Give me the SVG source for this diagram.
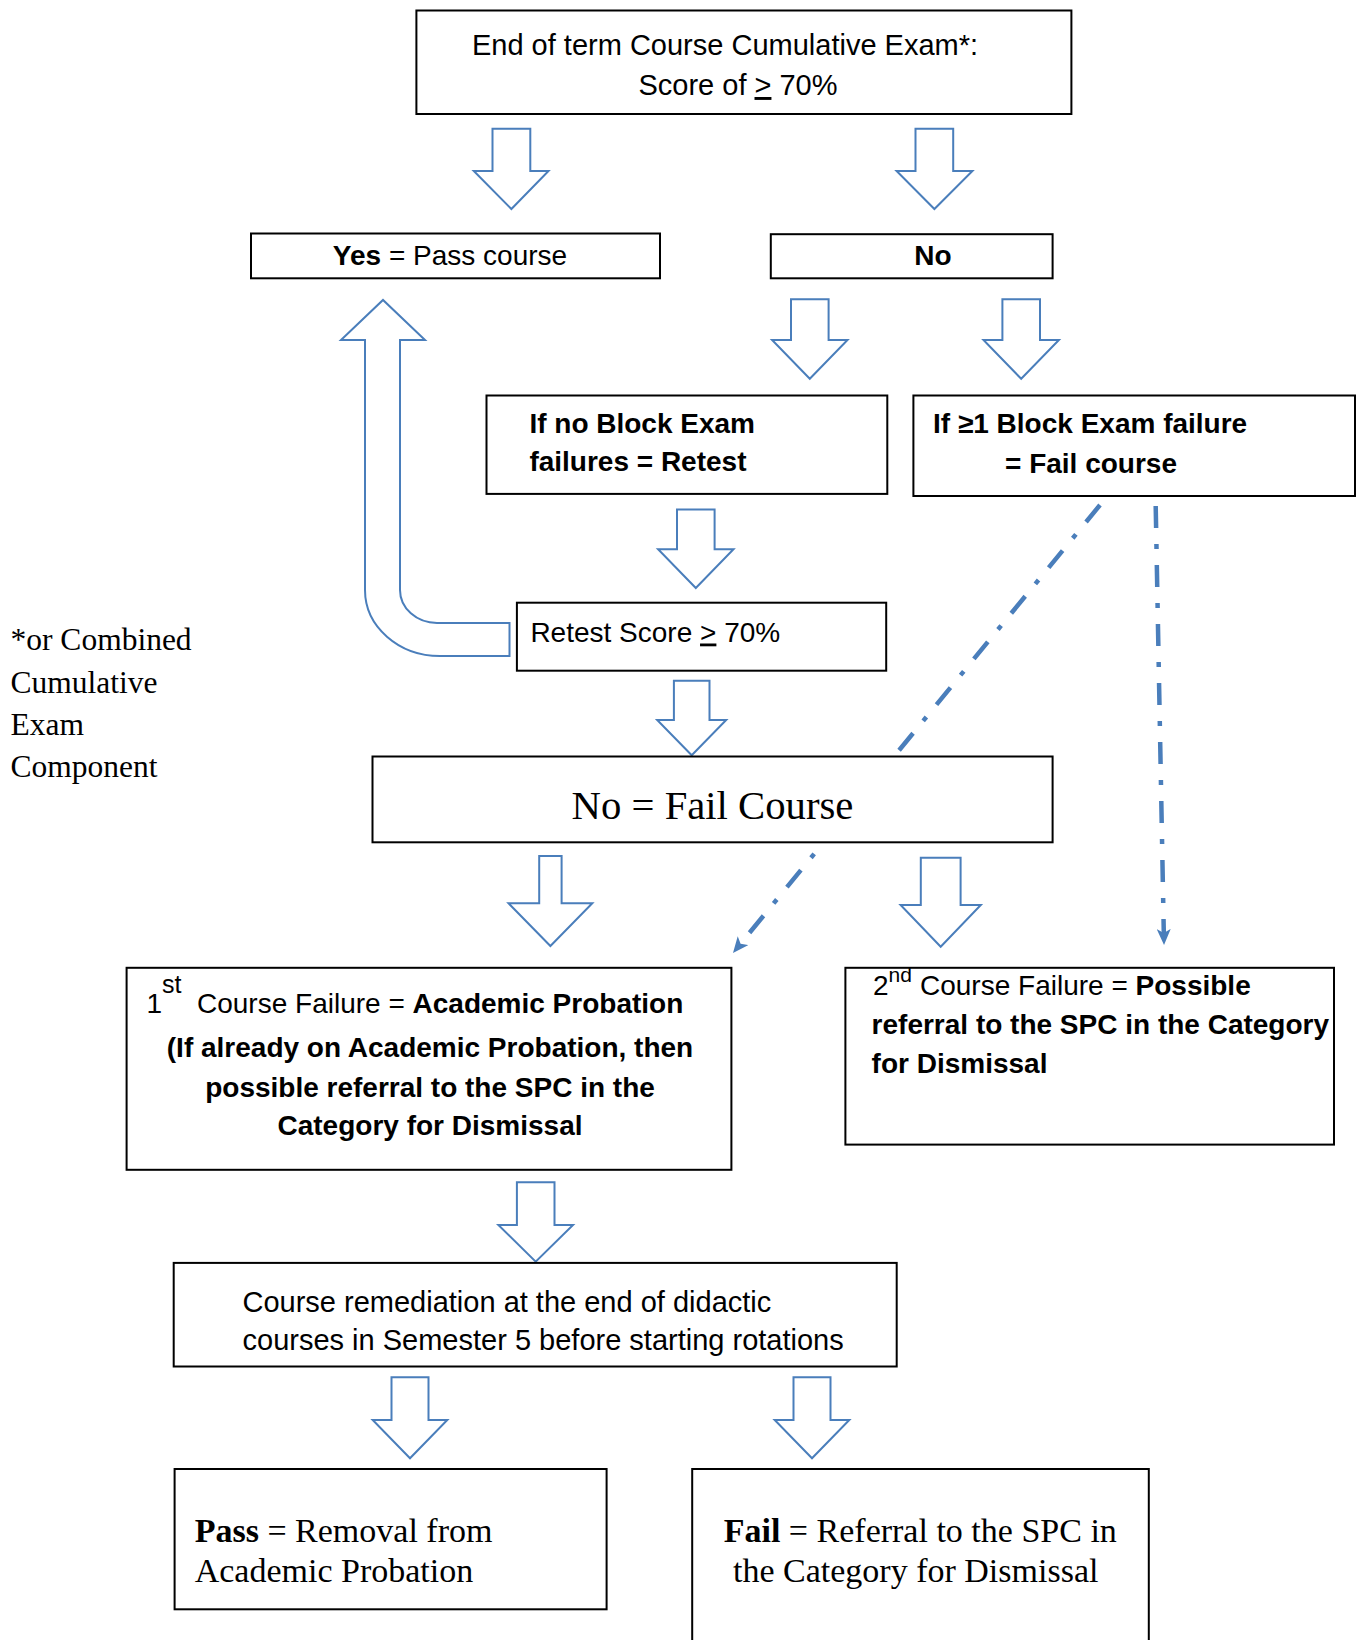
<svg xmlns="http://www.w3.org/2000/svg" width="1356" height="1640" viewBox="0 0 1356 1640">
<defs>
<style>
.box{fill:#fff;stroke:#000;stroke-width:2}
.blk{fill:#fff;stroke:#4A7EBB;stroke-width:2;stroke-linejoin:miter}
.dash{fill:none;stroke:#4A7EBB;stroke-width:4.5;stroke-dasharray:22 16 5 16}
.s{font-family:"Liberation Sans",Arial,sans-serif;font-size:28px;fill:#000}
.s29{font-size:29px}
.b{font-weight:bold}
.r{font-family:"Liberation Serif","Times New Roman",serif;fill:#000}
</style>
<marker id="ah" markerUnits="userSpaceOnUse" viewBox="0 0 16 14" markerWidth="16" markerHeight="14" refX="4" refY="7" orient="auto">
<path d="M0,0 L16,7 L0,14 L4,7 Z" fill="#4A7EBB"/>
</marker>
</defs>
<rect width="1356" height="1640" fill="#fff"/>

<g id="connectors">
<path class="blk" d="M492.5,128.7 L530.3,128.7 L530.3,171 L548.5,171 L511.4,209 L473.8,171 L492.5,171 Z"/>
<path class="blk" d="M915.5,128.7 L953.2,128.7 L953.2,171 L972.4,171 L934.4,209 L896.6,171 L915.5,171 Z"/>
<path class="blk" d="M791,299.2 L828.6,299.2 L828.6,340 L847.5,340 L809.8,378.8 L772.1,340 L791,340 Z"/>
<path class="blk" d="M1002.4,299.2 L1040,299.2 L1040,340 L1058.9,340 L1021.2,378.8 L983.5,340 L1002.4,340 Z"/>
<path class="blk" d="M677,509.5 L714.6,509.5 L714.6,549.3 L733.5,549.3 L695.8,588 L658.1,549.3 L677,549.3 Z"/>
<path class="blk" d="M365,340 L341,340 L383,300 L425,340 L400,340 L400,590 A37 33 0 0 0 437,623 L509.5,623 L509.5,656 L440,656 A75 66 0 0 1 365,590 Z"/>
<path class="blk" d="M673.9,680.7 L709.5,680.7 L709.5,720 L726.2,720 L691.7,755.3 L657.2,720 L673.9,720 Z"/>
<path class="blk" d="M539.2,856 L561.6,856 L561.6,903.3 L592.3,903.3 L550.4,946 L508.5,903.3 L539.2,903.3 Z"/>
<path class="blk" d="M920.8,857.7 L960.6,857.7 L960.6,905 L980.8,905 L940.7,946.7 L900.6,905 L920.8,905 Z"/>
<path class="blk" d="M516.9,1182.3 L554.5,1182.3 L554.5,1225 L573,1225 L535.7,1261.7 L498.4,1225 L516.9,1225 Z"/>
<path class="blk" d="M391.5,1377.3 L428.5,1377.3 L428.5,1420 L447.3,1420 L410,1458.3 L372.7,1420 L391.5,1420 Z"/>
<path class="blk" d="M793.5,1377.3 L830.5,1377.3 L830.5,1420 L849.3,1420 L812,1458.3 L774.7,1420 L793.5,1420 Z"/>
<path class="dash" d="M1100,505 L740.6,943.7" marker-end="url(#ah)"/>
<path class="dash" d="M1155.7,506 L1163.8,933" marker-end="url(#ah)"/>
</g>

<g id="n-top">
<rect class="box" x="416.4" y="10.5" width="655" height="103.5"/>
<text class="s s29" x="725" y="55" text-anchor="middle">End of term Course Cumulative Exam*:</text>
<text class="s s29" x="738" y="95" text-anchor="middle">Score of <tspan text-decoration="underline">&gt;</tspan> 70%</text>
</g>
<g id="n-yes">
<rect class="box" x="251" y="233.5" width="409" height="44.8"/>
<text class="s" x="450" y="265" text-anchor="middle" font-size="27"><tspan class="b">Yes</tspan> = Pass course</text>
</g>
<g id="n-no">
<rect class="box" x="770.8" y="234.2" width="281.8" height="44.1"/>
<text class="s b" x="933" y="265" text-anchor="middle">No</text>
</g>
<g id="n-retest-cond">
<rect class="box" x="486.5" y="395.5" width="400.8" height="98.4"/>
<text class="s b" x="529.4" y="432.7" font-size="27.3">If no Block Exam</text>
<text class="s b" x="529.4" y="471" font-size="27.3">failures = Retest</text>
</g>
<g id="n-fail-cond">
<rect class="box" x="913.4" y="395.5" width="441.6" height="100.5"/>
<text class="s b" x="933" y="433" font-size="27.5">If ≥1 Block Exam failure</text>
<text class="s b" x="1005" y="472.5" font-size="27.5">= Fail course</text>
</g>
<g id="n-retest-score">
<rect class="box" x="516.9" y="602.7" width="369.3" height="68"/>
<text class="s" x="530.4" y="641.5">Retest Score <tspan text-decoration="underline">&gt;</tspan> 70%</text>
</g>
<g id="n-fail-course">
<rect class="box" x="372.5" y="756.5" width="680.1" height="85.8"/>
<text class="r" x="712.5" y="819" font-size="40.7" text-anchor="middle">No = Fail Course</text>
</g>
<g id="n-first">
<rect class="box" x="126.6" y="967.8" width="604.8" height="202"/>
<text class="s" x="146.5" y="1013">1<tspan font-size="25" dy="-20">st</tspan><tspan x="197" dy="20">Course Failure = </tspan><tspan class="b">Academic Probation</tspan></text>
<text class="s b" x="430" y="1057.3" text-anchor="middle">(If already on Academic Probation, then</text>
<text class="s b" x="430" y="1096.7" text-anchor="middle">possible referral to the SPC in the</text>
<text class="s b" x="430" y="1135" text-anchor="middle">Category for Dismissal</text>
</g>
<g id="n-second">
<rect class="box" x="845.4" y="967.8" width="488.6" height="176.8"/>
<text class="s" x="873" y="995">2<tspan font-size="21" dy="-13">nd</tspan><tspan x="920" dy="13">Course Failure = </tspan><tspan class="b">Possible</tspan></text>
<text class="s b" x="871.6" y="1034.3">referral to the SPC in the Category</text>
<text class="s b" x="871.6" y="1072.7">for Dismissal</text>
</g>
<g id="n-remediation">
<rect class="box" x="173.7" y="1262.9" width="723" height="103.6"/>
<text class="s s29" x="242.5" y="1311.7">Course remediation at the end of didactic</text>
<text class="s s29" x="242.5" y="1350">courses in Semester 5 before starting rotations</text>
</g>
<g id="n-pass">
<rect class="box" x="174.6" y="1469" width="432" height="140.3"/>
<text class="r" x="194.7" y="1541.7" font-size="34"><tspan font-weight="bold">Pass</tspan> = Removal from</text>
<text class="r" x="194.7" y="1581.7" font-size="34">Academic Probation</text>
</g>
<g id="n-failfinal">
<rect class="box" x="692.2" y="1469" width="456.6" height="200"/>
<text class="r" x="723.7" y="1541.7" font-size="34"><tspan font-weight="bold">Fail</tspan> = Referral to the SPC in</text>
<text class="r" x="733" y="1581.7" font-size="34">the Category for Dismissal</text>
</g>
<g id="footnote">
<text class="r" x="10.5" y="650" font-size="31.5">*or Combined</text>
<text class="r" x="10.5" y="692.7" font-size="31.5">Cumulative</text>
<text class="r" x="10.5" y="735" font-size="31.5">Exam</text>
<text class="r" x="10.5" y="776.7" font-size="31.5">Component</text>
</g>
</svg>
